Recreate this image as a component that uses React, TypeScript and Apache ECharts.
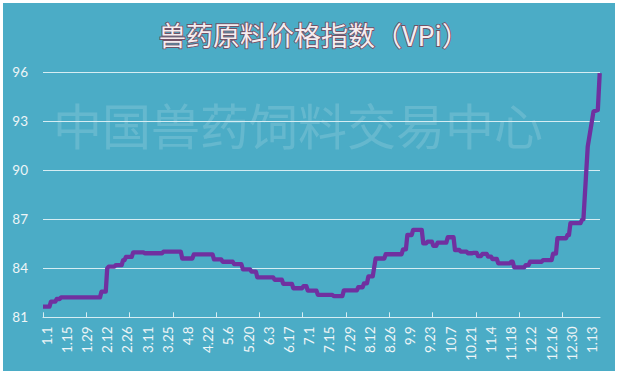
import React, { useEffect, useRef } from "react";
import * as echarts from "echarts";

// x-axis tick labels (every 14 days, day 0 = 1.1)
const dateLabels = [
  "1.1", "1.15", "1.29", "2.12", "2.26", "3.11", "3.25", "4.8", "4.22", "5.6",
  "5.20", "6.3", "6.17", "7.1", "7.15", "7.29", "8.12", "8.26", "9.9", "9.23",
  "10.7", "10.21", "11.4", "11.18", "12.2", "12.16", "12.30", "1.13",
];
const labelStepDays = 14;
// tick marks (days from 1.1)
const tickDays = [-2.5, 27.5, 57.5, 87.5, 117.5, 147.5, 177.5, 207.5, 237.5, 267.5, 297.5, 327.5, 357.5];

// index series: day offset from 1.1 and index value
const pointDays = [
  -2.5, 2, 3, 6, 7, 9, 10, 37, 38, 41, 42, 43, 47, 48, 52, 53, 54, 55, 59, 60,
  67, 68, 80, 81, 93, 94, 101, 102, 115, 116, 121, 122, 129, 130, 135, 136, 141, 142, 145, 146,
  157, 158, 163, 164, 170, 171, 177, 178, 180, 181, 187, 188, 198, 199, 205, 206, 215, 216, 219, 220,
  222, 223, 226, 228, 234, 235, 246, 247, 249, 250, 253, 254, 260, 261, 263, 264, 267, 268, 270, 271,
  277, 278, 282, 283, 286, 287, 291, 292, 295, 296, 298, 299, 301, 302, 305, 306, 308, 309, 312, 313,
  321, 322, 323, 324, 331, 332, 334, 335, 343, 344, 350, 351, 353, 354, 360, 361, 362, 363, 370, 371,
  372, 375, 379, 382, 383.3,
];
const pointValues = [
  81.65, 81.65, 81.96, 81.96, 82.12, 82.12, 82.22, 82.22, 82.57, 82.57, 84.0, 84.1, 84.1, 84.2, 84.2, 84.5, 84.5, 84.7, 84.7, 84.98,
  84.98, 84.92, 84.92, 85.02, 85.02, 84.6, 84.6, 84.85, 84.85, 84.55, 84.55, 84.4, 84.4, 84.25, 84.25, 83.94, 83.94, 83.8, 83.8, 83.45,
  83.45, 83.3, 83.3, 83.05, 83.05, 82.78, 82.78, 82.9, 82.9, 82.63, 82.63, 82.37, 82.37, 82.3, 82.3, 82.65, 82.65, 82.84, 82.84, 83.08,
  83.08, 83.5, 83.5, 84.6, 84.6, 84.86, 84.86, 85.16, 85.16, 86.04, 86.04, 86.35, 86.35, 85.53, 85.53, 85.63, 85.63, 85.37, 85.37, 85.57,
  85.57, 85.9, 85.9, 85.12, 85.12, 85.02, 85.02, 84.92, 84.92, 84.95, 84.95, 84.75, 84.75, 84.88, 84.88, 84.71, 84.71, 84.57, 84.57, 84.3,
  84.3, 84.4, 84.4, 84.06, 84.06, 84.2, 84.2, 84.4, 84.4, 84.5, 84.5, 84.9, 84.9, 85.84, 85.84, 86.04, 86.04, 86.76, 86.76, 86.96,
  87.0, 91.45, 93.6, 93.7, 95.95,
];

const titleText = "兽药原料价格指数（VPi）";
const watermarkText = "中国兽药饲料交易中心";

export default function App() {
  const ref = useRef<HTMLDivElement>(null);

  useEffect(() => {
    if (!ref.current) return;
    const chart = echarts.init(ref.current, undefined, { renderer: "svg" });
    const labelDays = dateLabels.map((_, i) => i * labelStepDays);
    const lineColor = "#d6edf3";
    const textColor = "#eef5f7";
    chart.setOption({
      animation: false,
      backgroundColor: "#4bacc6",
      grid: { left: 40, right: 15, top: 69.3, bottom: 53.7 },
      graphic: [
        {
          type: "text",
          z: -10,
          x: 295,
          y: 120.5,
          style: {
            text: watermarkText,
            fontSize: 49,
            fontFamily: "Noto Sans CJK SC",
            fill: "rgba(255,255,255,0.15)",
            textAlign: "center",
            textVerticalAlign: "middle",
            align: "center",
            verticalAlign: "middle",
          },
        },
        {
          type: "text",
          z: 10,
          x: 311,
          y: 31.5,
          style: {
            text: titleText,
            fontSize: 27,
            fontFamily: "Noto Sans CJK SC",
            fill: "#f5edf0",
            stroke: "rgba(120,70,90,0.9)",
            lineWidth: 1.8,
            textAlign: "center",
            textVerticalAlign: "middle",
            align: "center",
            verticalAlign: "middle",
          },
        },
      ],
      xAxis: {
        type: "value",
        min: -2.5,
        max: 383.5,
        axisLine: { show: true, lineStyle: { color: lineColor, width: 1 } },
        axisTick: {
          show: true,
          inside: true,
          length: 5,
          customValues: tickDays,
          lineStyle: { color: lineColor, width: 1 },
        },
        splitLine: { show: false },
        axisLabel: {
          customValues: labelDays,
          rotate: 90,
          margin: 9,
          color: textColor,
          fontSize: 13.5,
          fontFamily: "Lato",
          formatter: (v: number) => dateLabels[Math.round(v / labelStepDays)] ?? "",
        },
      },
      yAxis: {
        type: "value",
        min: 81,
        max: 96,
        interval: 3,
        axisLine: { show: false },
        axisTick: { show: false },
        splitLine: { show: true, lineStyle: { color: lineColor, width: 1 } },
        axisLabel: {
          margin: 15,
          color: textColor,
          fontSize: 13.5,
          fontFamily: "Lato",
        },
      },
      series: [
        {
          type: "line",
          data: pointDays.map((d, i) => [d, pointValues[i]]),
          showSymbol: false,
          symbol: "none",
          lineStyle: { color: "#7030a0", width: 4.3, join: "round" },
          z: 3,
        },
      ],
    });
    return () => chart.dispose();
  }, []);

  return (
    <div style={{ position: "fixed", left: 0, top: 0, width: 618, height: 374, background: "#ffffff" }}>
      <div ref={ref} style={{ position: "absolute", left: 3, top: 3, width: 612, height: 368 }} />
    </div>
  );
}
